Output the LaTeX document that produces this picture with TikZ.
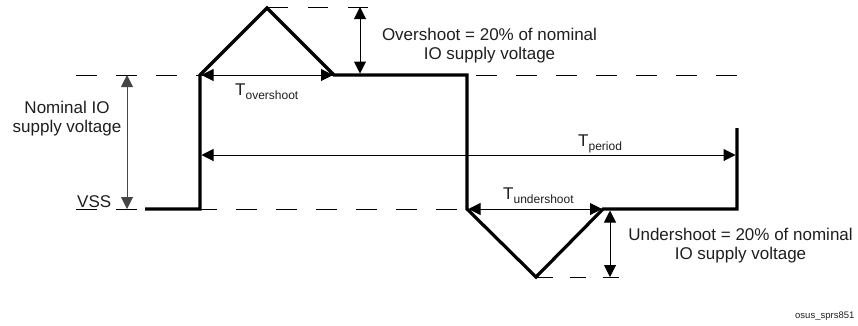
\documentclass[tikz,border=0pt]{standalone}
\usepackage{fontspec}
\setmainfont{Liberation Sans}
\usetikzlibrary{arrows.meta}
\definecolor{nomgray}{RGB}{70,70,70}
\definecolor{txt}{RGB}{30,30,30}
\begin{document}
\begin{tikzpicture}[x=1pt,y=-1pt,
  wave/.style={line width=3.2pt, line join=miter, black},
  dimarrow/.style={line width=1pt, {Triangle[length=12pt,width=12pt]}-{Triangle[length=12pt,width=12pt]}},
  guide/.style={line width=1pt, dash pattern=on 21pt off 19pt},
  lbl/.style={font=\fontsize{17}{19}\selectfont, align=center, inner sep=0pt, text=txt},
  tlbl/.style={font=\fontsize{17}{19}\selectfont, inner sep=0pt, anchor=base west, text=txt},
  subl/.style={font=\fontsize{9.5}{11}\selectfont, inner sep=0pt, anchor=base west, text=txt}]
\useasboundingbox (0,0) rectangle (858,325);
% waveform points
\coordinate (w0) at (145,209);
\coordinate (w1) at (200,209);
\coordinate (w2) at (200,75);
\coordinate (w3) at (267,8);
\coordinate (w4) at (334,75);
\coordinate (w5) at (467,75);
\coordinate (w6) at (467,209);
\coordinate (w7) at (536,277);
\coordinate (w8) at (603,209);
\coordinate (w9) at (737,209);
\coordinate (w10) at (737,128);
% guide lines
\coordinate (gn0) at (76,75);
\coordinate (gn1) at (737,75);
\coordinate (gv0) at (76,209);
\coordinate (gv1) at (467,209);
\coordinate (gt0) at (268,7);
\coordinate (gt1) at (368,7);
\coordinate (gb0) at (537,277);
\coordinate (gb1) at (619,277);
\draw[guide] (gn0) -- (gn1);
\draw[guide] (gv0) -- (gv1);
\draw[line width=1pt, dash pattern=on 20pt off 20pt] (gt0) -- (gt1);
\draw[line width=1pt, dash pattern=on 16pt off 17pt] (gb0) -- (gb1);
% waveform
\draw[wave] (w0) -- (w1) -- (w2) -- (w3) -- (w4) -- (w5) -- (w6) -- (w7) -- (w8) -- (w9) -- (w10);
% dimension arrows
\coordinate (ot) at (360,7);
\coordinate (ob) at (360,73.5);
\draw[dimarrow] (ot) -- (ob);
\coordinate (nt) at (127,75);
\coordinate (nb) at (127,209);
\draw[dimarrow, nomgray] (nt) -- (nb);
\coordinate (tol) at (201.5,75);
\coordinate (tor) at (333,75);
\draw[dimarrow] (tol) -- (tor);
\coordinate (tpl) at (201.5,155);
\coordinate (tpr) at (735.5,155);
\draw[dimarrow] (tpl) -- (tpr);
\coordinate (tul) at (468.5,209);
\coordinate (tur) at (602,209);
\draw[dimarrow] (tul) -- (tur);
\coordinate (ut) at (610,210.5);
\coordinate (ub) at (610,277);
\draw[dimarrow] (ut) -- (ub);
% labels
\node[lbl] (overtxt) at (489.5,45.1) {Overshoot = 20\% of nominal\\IO supply voltage};
\node[lbl] (nomtxt) at (67,118.1) {Nominal IO\\supply voltage};
\node[lbl] (undertxt) at (740.5,245.1) {Undershoot = 20\% of nominal\\IO supply voltage};
\node[tlbl] (vss) at (77,207) {VSS};
\node[tlbl] (tover) at (235,95) {T\raisebox{-4.5pt}{\fontsize{12}{12}\selectfont overshoot}};
\node[tlbl] (tperiod) at (578,146) {T\raisebox{-4.5pt}{\fontsize{12}{12}\selectfont period}};
\node[tlbl] (tunder) at (503,199) {T\raisebox{-4.5pt}{\fontsize{12}{12}\selectfont undershoot}};
\node[subl] (fig) at (795,318) {osus\_sprs851};
\end{tikzpicture}
\end{document}
